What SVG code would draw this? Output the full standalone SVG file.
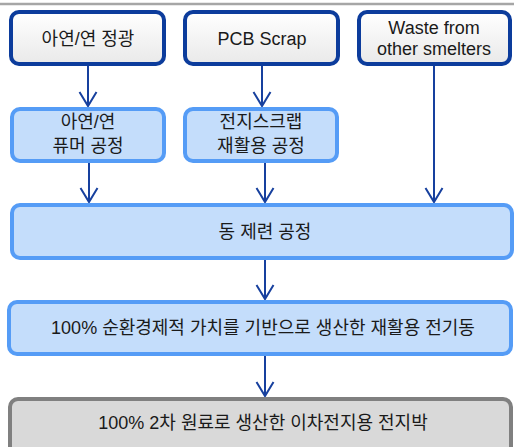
<svg xmlns="http://www.w3.org/2000/svg" width="514" height="447" viewBox="0 0 514 447">
<defs>
<linearGradient id="gw" x1="0" y1="0" x2="0" y2="1">
<stop offset="0" stop-color="#ffffff"/>
<stop offset="1" stop-color="#e9e9e9"/>
</linearGradient>
<marker id="ah" markerUnits="userSpaceOnUse" markerWidth="20" markerHeight="22" viewBox="-17 -11 20 22" refX="0" refY="0" orient="auto">
<path d="M-14,-8.5 L0,0 L-14,8.5" fill="none" stroke="#17409e" stroke-width="2"/>
</marker>
</defs>
<style>
.src{fill:url(#gw);stroke:#0c3c9c;stroke-width:4}
.proc{fill:#c4ddfb;stroke:#559cf6;stroke-width:4}
.out{fill:#d9d9d9;stroke:#808080;stroke-width:4}
.t{font-family:"Liberation Sans","Noto Sans CJK KR",sans-serif;font-size:18px;fill:#1a1a1a;text-anchor:middle;dominant-baseline:central}
.c{fill:none;stroke:#17409e;stroke-width:2;marker-end:url(#ah)}
</style>
<line x1="0" y1="4" x2="514" y2="4" stroke="#a6a6a6" stroke-width="2.5"/>
<g id="connectors">
<path class="c" d="M88,66 V106"/>
<path class="c" d="M262,66 V106"/>
<path class="c" d="M434,66 V202"/>
<path class="c" d="M89,163 V202"/>
<path class="c" d="M265,163 V202"/>
<path class="c" d="M265,260 V299"/>
<path class="c" d="M265,356 V396"/>
</g>
<g id="n1"><rect class="src" x="11" y="12" width="153" height="52" rx="8"/><text class="t" x="88" y="39">아연/연 정광</text></g>
<g id="n2"><rect class="src" x="185" y="12" width="153" height="52" rx="8"/><text class="t" x="262" y="39">PCB Scrap</text></g>
<g id="n3"><rect class="src" x="359" y="12" width="151" height="52" rx="8"/><text class="t" x="434" y="28">Waste from</text><text class="t" x="434" y="49">other smelters</text></g>
<g id="n4"><rect class="proc" x="12" y="109" width="152" height="52" rx="8"/><text class="t" x="88" y="122">아연/연</text><text class="t" x="88" y="146">퓨머 공정</text></g>
<g id="n5"><rect class="proc" x="185" y="109" width="152" height="52" rx="8"/><text class="t" x="261" y="122">전지스크랩</text><text class="t" x="261" y="146">재활용 공정</text></g>
<g id="n6"><rect class="proc" x="12" y="205" width="500" height="53" rx="8"/><text class="t" x="265" y="232">동 제련 공정</text></g>
<g id="n7"><rect class="proc" x="9" y="302" width="502" height="52" rx="8"/><text class="t" x="263" y="328">100% 순환경제적 가치를 기반으로 생산한 재활용 전기동</text></g>
<g id="n8"><rect class="out" x="10" y="399" width="501" height="60" rx="8"/><text class="t" x="263" y="423">100% 2차 원료로 생산한 이차전지용 전지박</text></g>
</svg>
